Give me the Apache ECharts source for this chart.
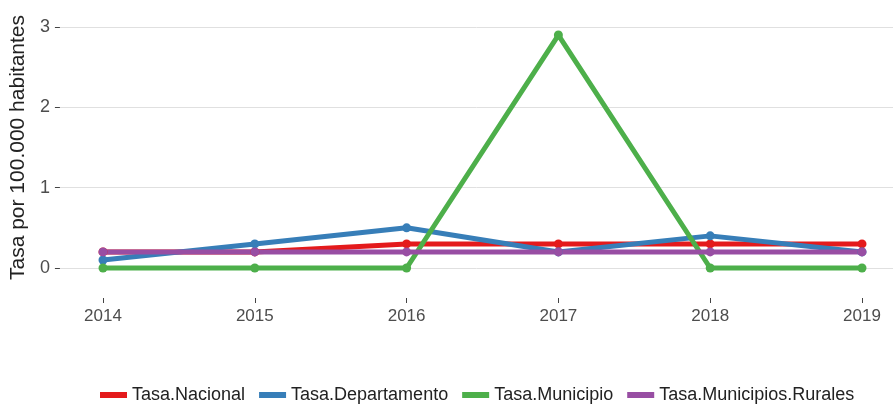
<!DOCTYPE html>
<html><head><meta charset="utf-8">
<script src="https://cdn.jsdelivr.net/npm/echarts@6/dist/echarts.min.js"></script>
<style>html,body{margin:0;padding:0;background:#fff}#c{width:893px;height:405px}</style>
</head><body><div id="c"></div>
<script>
const years = [2014, 2015, 2016, 2017, 2018, 2019];
const seriesNames = ['Tasa.Nacional', 'Tasa.Departamento', 'Tasa.Municipio', 'Tasa.Municipios.Rurales'];
const tasaNacional = [0.2, 0.2, 0.3, 0.3, 0.3, 0.3];
const tasaDepartamento = [0.1, 0.3, 0.5, 0.2, 0.4, 0.2];
const tasaMunicipio = [0, 0, 0, 2.9, 0, 0];
const tasaRurales = [0.2, 0.2, 0.2, 0.2, 0.2, 0.2];
const yTicks = [0, 1, 2, 3];
const colors = ['#E41A1C', '#377EB8', '#4DAF4A', '#984EA3'];
const values = [tasaNacional, tasaDepartamento, tasaMunicipio, tasaRurales];

const font = 'Liberation Sans, Arial, sans-serif';
const pxPerUnit = 241 / 3;
const chart = echarts.init(document.getElementById('c'));
chart.setOption({
  animation: false,
  color: colors,
  grid: [
    {left: 58, right: 0, top: 27, height: 241},
    {left: 103, right: 31, top: 27, height: 271}
  ],
  xAxis: [
    {gridIndex: 0, type: 'value', min: 0, max: 1, show: false},
    {gridIndex: 1, type: 'value', min: years[0], max: years[years.length-1], interval: 1,
     axisLine: {show: true, onZero: false, lineStyle: {color: 'rgba(0,0,0,0)'}}, splitLine: {show: false},
     axisTick: {show: true, length: 5, lineStyle: {color: '#444'}},
     axisLabel: {margin: 10, color: '#4d4d4d', fontSize: 17, fontFamily: font, formatter: v => String(v)}}
  ],
  yAxis: [
    {gridIndex: 0, type: 'value', min: yTicks[0], max: yTicks[yTicks.length-1], interval: 1,
     axisLine: {show: false},
     axisTick: {show: true, length: 5, lineStyle: {color: '#444'}},
     splitLine: {lineStyle: {color: '#e0e0e0', width: 1}},
     axisLabel: {margin: 10, color: '#4d4d4d', fontSize: 18, fontFamily: font},
     name: 'Tasa por 100.000 habitantes', nameLocation: 'middle', nameGap: 30,
     nameTextStyle: {color: '#222', fontSize: 21, fontFamily: font}},
    {gridIndex: 1, type: 'value', min: -30 / pxPerUnit, max: yTicks[yTicks.length-1], show: false}
  ],
  legend: {
    bottom: -4, left: 95, icon: 'rect', itemWidth: 27, itemHeight: 6, itemGap: 14,
    data: seriesNames,
    textStyle: {color: '#222', fontSize: 18, fontFamily: font}
  },
  series: seriesNames.map((n, i) => ({
    name: n, type: 'line', xAxisIndex: 1, yAxisIndex: 1,
    data: years.map((y, j) => [y, values[i][j]]),
    symbol: 'circle', symbolSize: 9, showSymbol: true, clip: false,
    lineStyle: {width: 5, color: colors[i]},
    itemStyle: {color: colors[i]}
  }))
});
</script></body></html>
